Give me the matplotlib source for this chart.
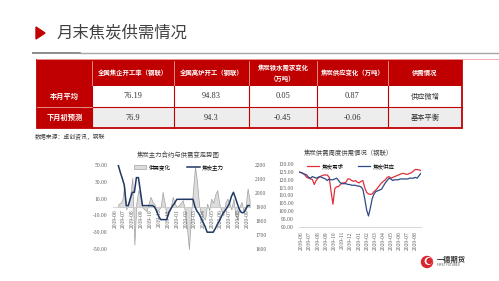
import numpy as np
import pandas as pd
import matplotlib
matplotlib.use('Agg')
import matplotlib.pyplot as plt
import matplotlib.dates as mdates
from matplotlib.patches import Rectangle, Polygon, Circle
from matplotlib.ticker import FormatStrFormatter

plt.rcParams['font.family'] = ['Liberation Serif', 'Noto Sans CJK SC', 'DejaVu Sans']
plt.rcParams['axes.unicode_minus'] = False

# ---- 表格数据 ----
col_names = ['全国焦企开工率（钢联）', '全国高炉开工（钢联）', '焦炭铁水需求变化\n（万吨）',
             '焦炭供应变化（万吨）', '供需情况']
row_names = ['本月平均', '下月初预测']
row_this = ['76.19', '94.83', '0.05', '0.87', '供应微增']
row_next = ['76.9', '94.3', '-0.45', '-0.06', '基本平衡']

# ---- 左图：焦炭主力合约与供需变化 ----
left_dates = pd.date_range('2019-06-12', periods=66, freq='7D')
sd_change = [3, 5, 8, 25, -3, 5, 15, 35, -45, 5, 20, 14, 0, -3, -5, 4, 12, 6, 3, -5,
             -3, 0, 18, 4, -12, -8, 0, 12, 4, 0, 2, 5, 8, -5, -25, -50, -10, 20, 48, 30,
             2, -8, -12, -15, 4, -4, 10, 5, 15, 20, 4, -4, -10, 5, 10, 4, -3, 10, -10, -15,
             0, 6, -5, 0, 22, 8]
coke_main = [2200, 2150, 2105, 2057, 1910, 1910, 1960, 2005, 2005, 2110, 2110, 2010, 1910, 1910,
             1910, 1910, 1910, 1910, 1900, 1870, 1835, 1810, 1810, 1810, 1810, 1860, 1885, 1910,
             1930, 1955, 1955, 1955, 1955, 1955, 1955, 1955, 1955, 1955, 1900, 1870, 1850, 1820,
             1790, 1760, 1720, 1720, 1720, 1720, 1745, 1775, 1800, 1830, 1860, 1875, 1900, 1925,
             1975, 2005, 1965, 1920, 1880, 1860, 1860, 1880, 1910, 1910]

# ---- 右图：焦炭周度供需 ----
right_dates = pd.date_range('2019-05-23', periods=66, freq='7D')
coke_demand = [124.8, 124.6, 124.0, 123.0, 121.5, 121.0, 120.5, 120.2, 117.0, 119.5, 121.0, 122.0,
               122.5, 123.0, 123.0, 123.0, 121.5, 112.5, 104.5, 114.5, 115.5, 115.7, 117.0, 118.0,
               118.0, 118.5, 120.5, 120.5, 119.5, 119.0, 119.5, 118.5, 118.0, 119.0, 119.5, 115.0,
               112.0, 111.0, 110.7, 111.0, 112.5, 113.5, 115.0, 116.5, 118.0, 119.0, 120.0, 121.5,
               122.0, 121.0, 121.5, 122.0, 122.5, 123.0, 123.5, 124.0, 124.0, 123.5, 123.5, 124.0,
               124.5, 125.5, 126.5, 126.5, 126.3, 125.8]
coke_supply = [124.8, 124.5, 124.0, 123.5, 123.0, 121.5, 121.0, 122.0, 121.5, 121.0, 121.5, 122.0,
               121.5, 121.0, 120.5, 119.5, 120.5, 120.0, 120.0, 120.5, 121.0, 119.5, 118.0, 117.5,
               117.5, 117.5, 117.0, 117.0, 116.5, 116.5, 116.5, 116.0, 116.0, 115.5, 114.0, 108.0,
               101.0, 97.0, 102.0, 108.0, 111.0, 112.5, 113.0, 113.5, 114.0, 116.0, 118.0, 119.5,
               121.0, 120.5, 119.5, 120.0, 120.0, 120.0, 120.5, 120.5, 120.5, 120.5, 120.5, 121.0,
               121.0, 121.0, 121.5, 121.0, 122.5, 124.0]

W, H = 499, 281
fig = plt.figure(figsize=(W / 100, H / 100), dpi=100)
fig.patch.set_facecolor('white')


def px_axes(x0, y0, x1, y1):
    # 像素坐标(左上为原点) -> figure 坐标
    return [x0 / W, 1 - y1 / H, (x1 - x0) / W, (y1 - y0) / H]


bg = fig.add_axes([0, 0, 1, 1])
bg.set_xlim(0, W)
bg.set_ylim(H, 0)
bg.axis('off')

# 标题
bg.add_patch(Polygon([(36, 27), (36, 39), (45, 33)], closed=True, color='#C00000'))
bg.text(57, 33, '月末焦炭供需情况', fontsize=11.8, color='#404040', va='center',
        family=['Noto Sans CJK SC'])
bg.plot([33, 80], [52.5, 52.5], color='#8C8C8C', lw=1.4)
bg.plot([80, W], [52.5, 52.5], color='#A6A6A6', lw=1.0)
bg.plot([37, W], [59, 59], color='#F0A0A0', lw=0.6)

# 表格
red = '#C00000'
xs = [37, 92, 174, 249, 317, 388, 462]
ys = [60, 86, 107, 128]
bg.add_patch(Rectangle((xs[0], ys[0]), xs[-1] - xs[0], ys[1] - ys[0], fc=red, ec='none'))
bg.add_patch(Rectangle((xs[0], ys[1]), xs[1] - xs[0], ys[3] - ys[1], fc=red, ec='none'))
bg.add_patch(Rectangle((xs[1], ys[2]), xs[-1] - xs[1], ys[3] - ys[2], fc='#EDEDED', ec='none'))
for x in xs[1:-1]:
    bg.plot([x, x], [ys[0] + 1, ys[1]], color='#F2C0C0', lw=0.5)
    bg.plot([x, x], [ys[1], ys[3]], color=red, lw=0.8)
bg.plot([xs[1], xs[-1]], [ys[2], ys[2]], color=red, lw=0.8)
bg.plot([xs[0], xs[1]], [ys[2], ys[2]], color='#F2C0C0', lw=0.5)
bg.add_patch(Rectangle((xs[0], ys[0]), xs[-1] - xs[0], ys[3] - ys[0], fc='none', ec=red, lw=1.3))

for i, name in enumerate(col_names):
    cx = (xs[i + 1] + xs[i + 2]) / 2
    bg.text(cx, (ys[0] + ys[1]) / 2, name, color='white', fontsize=4.6, fontweight='bold',
            ha='center', va='center', linespacing=1.8, family=['Noto Sans CJK SC'])
for r, (name, vals) in enumerate(zip(row_names, [row_this, row_next])):
    cy = (ys[r + 1] + ys[r + 2]) / 2
    bg.text((xs[0] + xs[1]) / 2, cy, name, color='white', fontsize=5.2, fontweight='bold',
            ha='center', va='center', family=['Noto Sans CJK SC'])
    for i, v in enumerate(vals):
        cx = (xs[i + 1] + xs[i + 2]) / 2
        bg.text(cx, cy, v, color='#333333', fontsize=6 if i < 4 else 5.2,
                ha='center', va='center')

bg.text(35, 137, '数据来源：卓创资讯，钢联', fontsize=4.2, color='#404040', va='center',
        family=['Noto Sans CJK SC'])

# ---- 左图 ----
ax1 = fig.add_axes(px_axes(113, 165, 249.6, 249))
ax1.set_facecolor('none')
ax1.fill_between(left_dates, 0, sd_change, facecolor='#DCDCDC', edgecolor='#A0A0A0',
                 lw=0.5, label='供需变化')
ax1.set_ylim(-50, 50)
ax1.set_yticks([-50, -30, -10, 10, 30, 50])
ax1.yaxis.set_major_formatter(FormatStrFormatter('%.2f'))
ax1.set_xlim(pd.Timestamp('2019-05-25'), left_dates[-1])
ax1.xaxis.set_major_locator(mdates.MonthLocator())
ax1.xaxis.set_major_formatter(mdates.DateFormatter('%Y-%m'))
for s in ['top', 'right', 'left']:
    ax1.spines[s].set_visible(False)
ax1.spines['bottom'].set_position(('data', 0))
ax1.spines['bottom'].set_color('#D0D0D0')
ax1.spines['bottom'].set_linewidth(0.6)
ax1.tick_params(axis='both', length=0, labelsize=4, labelcolor='#595959', pad=4)
ax1.tick_params(axis='x', rotation=90, pad=1.5)

ax1b = ax1.twinx()
ax1b.plot(left_dates, coke_main, color='#1F3864', lw=1.1, label='焦炭主力')
ax1b.set_ylim(1600, 2200)
ax1b.set_yticks(range(1600, 2201, 100))
for s in ax1b.spines.values():
    s.set_visible(False)
ax1b.tick_params(axis='y', length=0, labelsize=4, labelcolor='#595959', pad=4)

h1, l1 = ax1.get_legend_handles_labels()
h2, l2 = ax1b.get_legend_handles_labels()
ax1b.legend(h1 + h2, l1 + l2, ncol=2, frameon=False, fontsize=4, loc='center',
            bbox_to_anchor=(179 / W, 1 - 167 / H), bbox_transform=fig.transFigure,
            handlelength=2.2, columnspacing=3, handletextpad=0.5,
            prop={'family': ['Noto Sans CJK SC'], 'size': 4})
bg.text(178, 154.5, '焦炭主力合约与供需变走势图', fontsize=4.6, color='#404040',
        ha='center', va='center', family=['Noto Sans CJK SC'])

# ---- 右图 ----
ax2 = fig.add_axes(px_axes(299.3, 164, 420.8, 227))
ax2.set_facecolor('none')
ax2.plot(right_dates, coke_demand, color='#E0303A', lw=0.9, label='焦炭需求')
ax2.plot(right_dates, coke_supply, color='#2E4A86', lw=0.9, label='焦炭供应')
ax2.set_ylim(90, 130)
ax2.set_yticks(np.arange(90, 131, 5))
ax2.yaxis.set_major_formatter(FormatStrFormatter('%.2f'))
ax2.set_xlim(right_dates[0], right_dates[-1])
ax2.xaxis.set_major_locator(mdates.MonthLocator())
ax2.xaxis.set_major_formatter(mdates.DateFormatter('%Y-%m'))
for s in ['top', 'right', 'left']:
    ax2.spines[s].set_visible(False)
ax2.spines['bottom'].set_color('#D0D0D0')
ax2.spines['bottom'].set_linewidth(0.6)
ax2.tick_params(axis='both', length=0, labelsize=4, labelcolor='#595959', pad=4)
ax2.tick_params(axis='x', rotation=90, pad=3)
ax2.legend(ncol=2, frameon=False, loc='center',
           bbox_to_anchor=(351 / W, 1 - 166.5 / H), bbox_transform=fig.transFigure,
           handlelength=2.2, columnspacing=2.5, handletextpad=0.5,
           prop={'family': ['Noto Sans CJK SC'], 'size': 4})
bg.text(348, 153, '焦炭供需周度供需情况（钢联）', fontsize=4.6, color='#404040',
        ha='center', va='center', family=['Noto Sans CJK SC'])

# ---- 右下角标志 ----
bg.add_patch(Circle((427, 262), 5.5, color='#D7262E'))
bg.add_patch(Circle((428.5, 261), 3.2, color='white'))
bg.add_patch(Circle((429.5, 261), 2.4, color='#D7262E'))
bg.text(437, 259.5, '一德期货', fontsize=5.2, fontweight='bold', color='#333333',
        va='center', family=['Noto Sans CJK SC'])
bg.text(437, 265, 'FIRST FUTURES', fontsize=2.2, color='#555555', va='center',
        family=['DejaVu Sans'])

fig.savefig('out.png', dpi=100)
